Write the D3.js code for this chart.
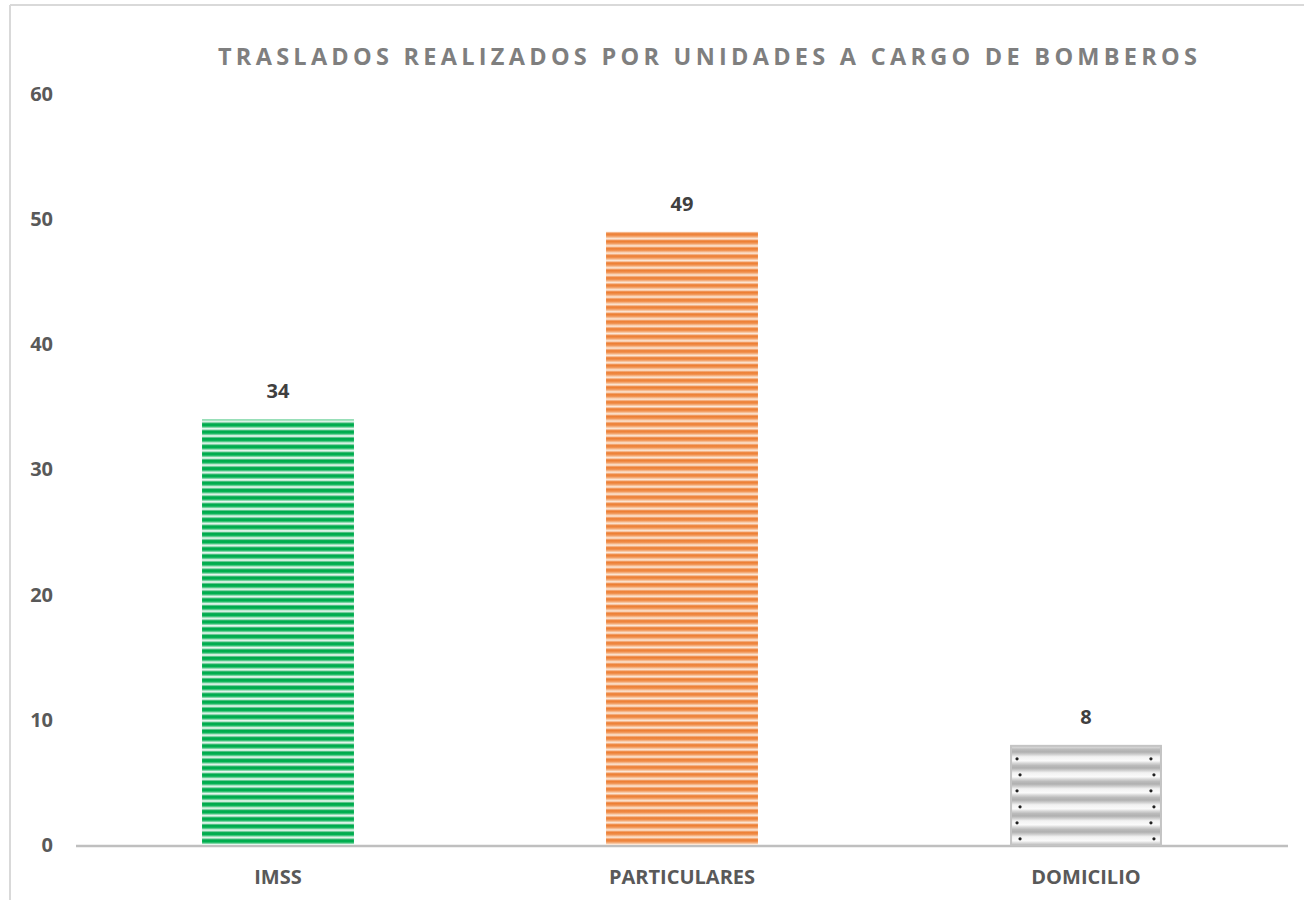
<!DOCTYPE html>
<html>
<head>
<meta charset="utf-8">
<script src="https://cdn.jsdelivr.net/npm/d3@7"></script>
<style>
  body { margin: 0; background: #fff; }
  svg { display: block; font-family: "Open Sans", "Liberation Sans", sans-serif; }
</style>
</head>
<body>
<svg id="chart" width="1304" height="900"></svg>
<script>
// data
const categories = ["IMSS", "PARTICULARES", "DOMICILIO"];
const values = [34, 49, 8];
const yTicks = [0, 10, 20, 30, 40, 50, 60];
const title = "TRASLADOS REALIZADOS POR UNIDADES A CARGO DE BOMBEROS";

const svg = d3.select("#chart");
const W = 1304, H = 900;

// chart frame (only left and top edges are visible in the picture)
svg.append("line").attr("x1", 10).attr("x2", 10).attr("y1", 5).attr("y2", H)
    .attr("stroke", "#d9d9d9").attr("stroke-width", 2);
svg.append("line").attr("x1", 10).attr("x2", W).attr("y1", 5).attr("y2", 5)
    .attr("stroke", "#d9d9d9").attr("stroke-width", 2);

const x = d3.scaleBand()
    .domain(categories)
    .range([76, 1288])
    .paddingInner(0.624)
    .paddingOuter(0.312);

const y = d3.scaleLinear()
    .domain([0, 60])
    .range([845, 94]);

// striped fills
const defs = svg.append("defs");
function stripes(id, h, stops) {
    const g = defs.append("linearGradient").attr("id", id + "-g")
        .attr("x1", 0).attr("x2", 0).attr("y1", 0).attr("y2", 1);
    stops.forEach(s => g.append("stop").attr("offset", s[0]).attr("stop-color", s[1]));
    const p = defs.append("pattern").attr("id", id)
        .attr("patternUnits", "userSpaceOnUse")
        .attr("width", 20).attr("height", h);
    p.append("rect").attr("width", 20).attr("height", h).attr("fill", `url(#${id}-g)`);
}
stripes("green", 7.3, [[0, "#00a84c"], [0.35, "#00b050"], [0.55, "#7fd6a6"], [0.72, "#ffffff"], [0.88, "#9fdcbc"], [1, "#00a84c"]]);
stripes("orange", 7.3, [[0, "#ec7a2c"], [0.3, "#f0914f"], [0.55, "#f8c8a4"], [0.72, "#fdeee2"], [0.88, "#f3a673"], [1, "#ec7a2c"]]);
stripes("gray", 16, [[0, "#b0b0b0"], [0.15, "#cfcfcf"], [0.3, "#f2f2f2"], [0.55, "#fafafa"], [0.7, "#d6d6d6"], [0.85, "#bababa"], [1, "#b0b0b0"]]);
const fills = ["url(#green)", "url(#orange)", "url(#gray)"];

// baseline
svg.append("line")
    .attr("x1", x.range()[0]).attr("x2", x.range()[1])
    .attr("y1", y(0) + 1).attr("y2", y(0) + 1)
    .attr("stroke", "#bfbfbf").attr("stroke-width", 2.5);

// bars
svg.selectAll(".bar")
    .data(values)
    .join("rect")
    .attr("class", "bar")
    .attr("x", (d, i) => x(categories[i]))
    .attr("width", x.bandwidth())
    .attr("y", d => y(d))
    .attr("height", d => y(0) - y(d))
    .attr("fill", (d, i) => fills[i]);

// gray bar has a darker rim
svg.append("rect")
    .attr("x", x("DOMICILIO") + 1).attr("y", y(8) + 1)
    .attr("width", x.bandwidth() - 2).attr("height", y(0) - y(8) - 1)
    .attr("fill", "none").attr("stroke", "#c4c4c4").attr("stroke-width", 2);

// little dots on the gray bar
const dom = x("DOMICILIO"), bw = x.bandwidth();
const dotRows = d3.range(y(8) + 14, y(0) - 4, 16);
dotRows.forEach((yy, k) => {
    [dom + 7, dom + bw - 11].forEach(xx => {
        svg.append("circle").attr("cx", xx + (k % 2) * 3).attr("cy", yy)
            .attr("r", 1.6).attr("fill", "#222");
    });
});

// value labels
svg.selectAll(".val")
    .data(values)
    .join("text")
    .attr("class", "val")
    .attr("x", (d, i) => x(categories[i]) + x.bandwidth() / 2)
    .attr("y", d => y(d) - 21)
    .attr("text-anchor", "middle")
    .attr("font-size", 20)
    .attr("font-weight", "bold")
    .attr("fill", "#404040")
    .text(d => d);

// y axis labels only
const yAxis = svg.append("g")
    .attr("transform", "translate(53,0)")
    .call(d3.axisLeft(y).tickValues(yTicks).tickSize(0).tickPadding(0));
yAxis.select(".domain").remove();
yAxis.selectAll("text")
    .attr("font-family", "'Open Sans', sans-serif")
    .attr("font-size", 20)
    .attr("font-weight", "bold")
    .attr("fill", "#595959");

// category labels
svg.selectAll(".cat")
    .data(categories)
    .join("text")
    .attr("class", "cat")
    .attr("x", d => x(d) + x.bandwidth() / 2)
    .attr("y", 884)
    .attr("text-anchor", "middle")
    .attr("font-size", 20)
    .attr("font-weight", "bold")
    .attr("fill", "#595959")
    .text(d => d);

// title
svg.append("text")
    .attr("x", 218)
    .attr("y", 65)
    .attr("font-size", 23.5)
    .attr("font-weight", "bold")
    .attr("fill", "#7f7f7f")
    .attr("textLength", 979)
    .attr("lengthAdjust", "spacing")
    .text(title);
</script>
</body>
</html>
